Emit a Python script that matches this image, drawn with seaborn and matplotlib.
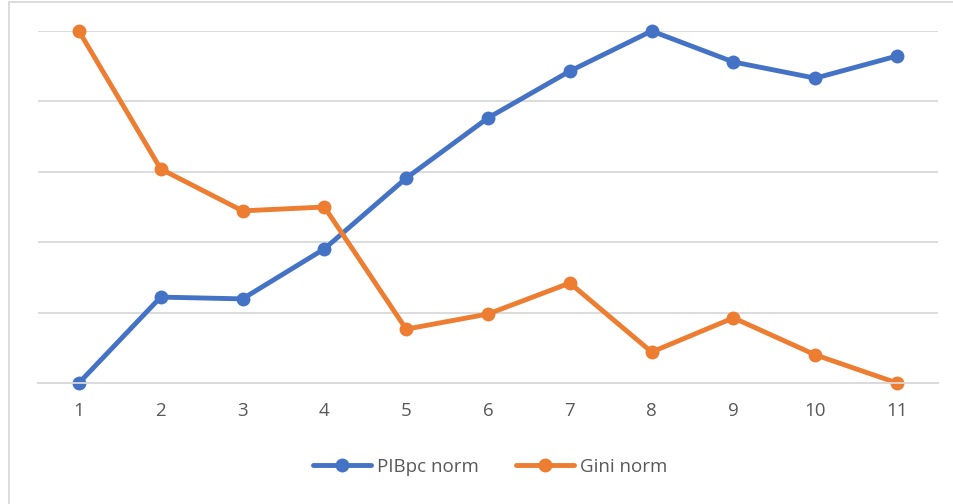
import matplotlib
matplotlib.use("Agg")
import matplotlib.pyplot as plt
import seaborn as sns
import pandas as pd
from matplotlib.patches import Rectangle

periods = [1, 2, 3, 4, 5, 6, 7, 8, 9, 10, 11]
pib_norm = [0.0, 0.244, 0.239, 0.381, 0.582, 0.753, 0.886, 1.0, 0.912, 0.866, 0.929]
gini_norm = [1.0, 0.608, 0.489, 0.500, 0.153, 0.196, 0.284, 0.088, 0.185, 0.080, 0.0]
series_names = ["PIBpc norm", "Gini norm"]
colors = ["#4472C4", "#ED7D31"]

df = pd.DataFrame({
    "x": periods * 2,
    "y": pib_norm + gini_norm,
    "serie": [series_names[0]] * len(periods) + [series_names[1]] * len(periods),
})

sns.set_theme(style="white")
plt.rcParams["font.family"] = ["Open Sans", "DejaVu Sans"]

fig = plt.figure(figsize=(9.54, 5.04), dpi=100)
ax = fig.add_axes([38 / 954, 1 - 383 / 504, 900 / 954, 352 / 504])

sns.lineplot(data=df, x="x", y="y", hue="serie", palette=colors, marker="o",
             markersize=10, markeredgewidth=0, linewidth=3.5, ax=ax,
             hue_order=series_names, clip_on=False)

ax.set_xlim(0.5, 11.5)
ax.set_ylim(0, 1)
ax.set_yticks([0, 0.2, 0.4, 0.6, 0.8, 1.0])
ax.set_yticklabels([])
ax.set_xticks(periods)
ax.set_xticklabels([str(p) for p in periods], color="#595959", fontsize=13.5)
ax.tick_params(axis="x", length=0, pad=14)
ax.tick_params(axis="y", length=0)
ax.grid(axis="y", color="#D9D9D9", linewidth=1.3)
ax.set_axisbelow(True)
for s in ["top", "right", "left"]:
    ax.spines[s].set_visible(False)
ax.spines["bottom"].set_color("#D9D9D9")
ax.spines["bottom"].set_linewidth(1.3)
ax.set_xlabel("")
ax.set_ylabel("")

leg = ax.legend(loc="center", bbox_to_anchor=(490 / 954, 1 - 467 / 504),
                bbox_transform=fig.transFigure, ncol=2, frameon=False,
                fontsize=13.5, handlelength=3.1, columnspacing=2.0,
                handletextpad=0.3)
for t in leg.get_texts():
    t.set_color("#595959")

fig.patches.append(Rectangle((9 / 954, -0.1), 2, 1 - 2 / 504 + 0.1,
                             transform=fig.transFigure, fill=False,
                             edgecolor="#D9D9D9", linewidth=1.3))

fig.savefig("out.png", dpi=100)
